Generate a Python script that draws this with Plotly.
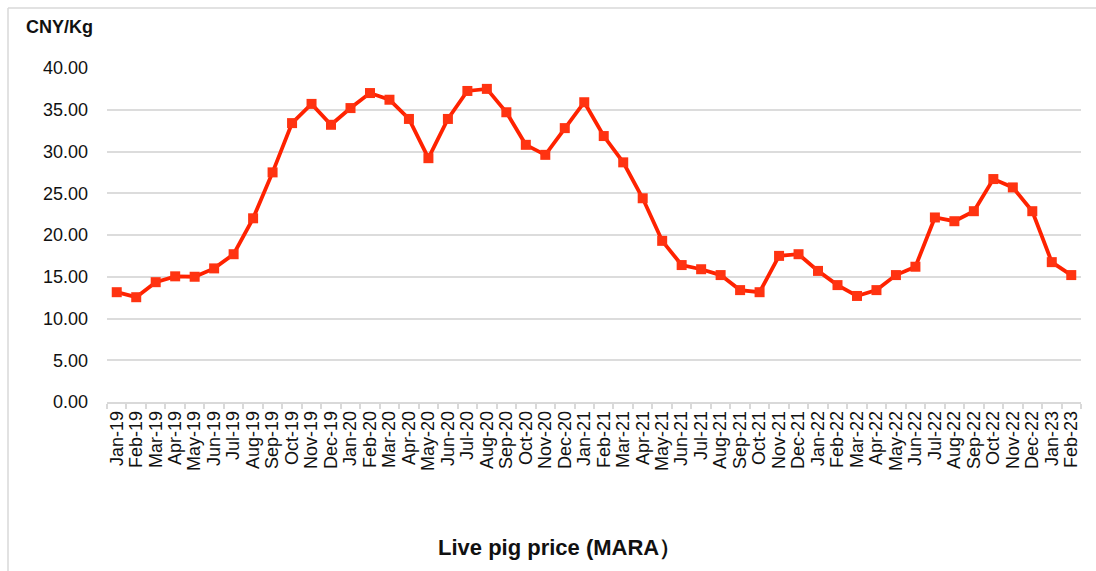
import plotly.graph_objects as go

months = ["Jan-19","Feb-19","Mar-19","Apr-19","May-19","Jun-19","Jul-19","Aug-19","Sep-19","Oct-19","Nov-19","Dec-19",
          "Jan-20","Feb-20","Mar-20","Apr-20","May-20","Jun-20","Jul-20","Aug-20","Sep-20","Oct-20","Nov-20","Dec-20",
          "Jan-21","Feb-21","Mar-21","Apr-21","May-21","Jun-21","Jul-21","Aug-21","Sep-21","Oct-21","Nov-21","Dec-21",
          "Jan-22","Feb-22","Mar-22","Apr-22","May-22","Jun-22","Jul-22","Aug-22","Sep-22","Oct-22","Nov-22","Dec-22",
          "Jan-23","Feb-23"]
price = [13.15, 12.55, 14.35, 15.05, 15.0, 16.0, 17.7, 22.0, 27.5, 33.4, 35.7, 33.2,
         35.2, 37.0, 36.2, 33.9, 29.2, 33.9, 37.25, 37.5, 34.7, 30.8, 29.6, 32.8,
         35.9, 31.85, 28.7, 24.4, 19.3, 16.4, 15.9, 15.2, 13.4, 13.15, 17.5, 17.7,
         15.7, 14.0, 12.7, 13.4, 15.2, 16.2, 22.1, 21.65, 22.85, 26.7, 25.7, 22.85,
         16.75, 15.2]
y_ticks = [0, 5, 10, 15, 20, 25, 30, 35, 40]

W, H = 1096, 571
L, R, T, B = 107, 15, 68, 169
pw, ph = W - L - R, H - T - B

def px(x):
    return (x - L) / pw

def py(y):
    return (H - B - y) / ph

fig = go.Figure()
fig.add_trace(go.Scatter(
    x=months, y=price, mode="lines+markers",
    line=dict(color="#ff2200", width=3.8),
    marker=dict(symbol="square", size=10, color="#ff3311"),
    showlegend=False,
))

fig.update_layout(
    width=W, height=H,
    margin=dict(l=L, r=R, t=T, b=B),
    paper_bgcolor="white", plot_bgcolor="white",
    font=dict(family="Liberation Sans, Arial, sans-serif", color="#111"),
    xaxis=dict(
        type="category", tickangle=-90, tickfont=dict(size=18, color="#111"),
        tickmode="linear", tick0=0, dtick=1,
        showgrid=False, showline=True, linecolor="#d9d9d9", linewidth=1.5,
        ticks="outside", ticklen=5, tickcolor="#d9d9d9", tickwidth=1.5,
        tickson="boundaries", range=[-0.5, len(months) - 0.5],
    ),
    yaxis=dict(
        range=[0, 40], tickvals=y_ticks, tickformat=".2f",
        tickfont=dict(size=18, color="#111"),
        showgrid=True, gridcolor="#dcdcdc", gridwidth=1.5,
        zeroline=False, showline=False, ticklabelstandoff=18,
    ),
    shapes=[
        dict(type="line", xref="paper", yref="paper", x0=px(8), x1=px(1100), y0=py(8), y1=py(8),
             line=dict(color="#d9d9d9", width=1.5)),
        dict(type="line", xref="paper", yref="paper", x0=px(8), x1=px(8), y0=py(8), y1=py(575),
             line=dict(color="#d9d9d9", width=1.5)),
    ],
    annotations=[
        dict(text="<b>CNY/Kg</b>", xref="paper", yref="paper", x=px(24), y=py(27),
             xanchor="left", yanchor="middle", showarrow=False, font=dict(size=18, color="#111")),
        dict(text="<b>Live pig price (MARA）</b>", xref="paper", yref="paper", x=px(559), y=py(547),
             xanchor="center", yanchor="middle", showarrow=False, font=dict(size=22, color="#111")),
    ],
)

fig.write_html("out.html", config={"displayModeBar": False},
               post_script="document.body.style.margin='0';document.body.style.overflow='hidden';")
